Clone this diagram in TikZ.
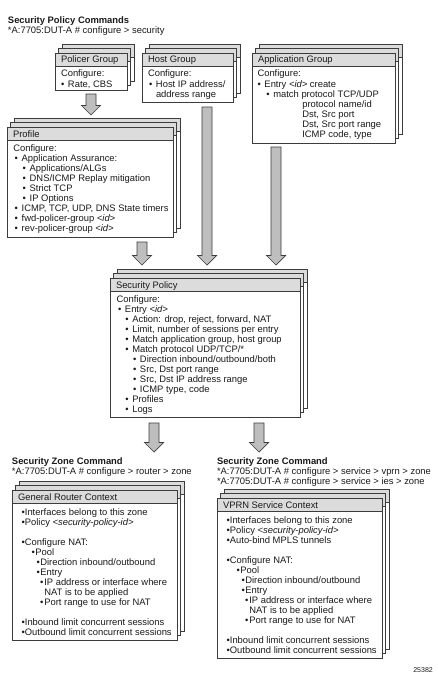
\documentclass[tikz,border=0pt]{standalone}
\usepackage{fontspec}
\setmainfont{Liberation Sans}
\usetikzlibrary{calc}
\definecolor{hdr}{HTML}{DCDCDC}
\definecolor{arr}{HTML}{BEBEBE}
\definecolor{edge}{HTML}{3C3C3C}
\definecolor{ink}{HTML}{1A1A1A}
\newcommand\fs{\fontsize{9.4}{10}\selectfont}
\newcommand\bl[2]{\ifdim #1pt>0pt \makebox[#1pt][l]{\textbullet}\fi #2}
\newcommand\idt[1]{\textit{<#1>}}
\tikzset{
  layer/.style={draw=edge, line width=0.8pt, fill=white},
  hdrbar/.style={draw=edge, line width=0.8pt, fill=hdr},
  tx/.style={anchor=base west, inner sep=0pt, outer sep=0pt, font=\fs, text=ink},
  ttl/.style={tx, font=\fs\bfseries},
  blk/.style={draw=edge, line width=0.7pt, fill=arr, line join=miter},
  frontbox/.style={draw=edge, line width=0.8pt, fill=white, anchor=north west, inner sep=0pt, outer sep=0pt},
}
% name, x1, y1, x2, y2, title
\newcommand\stackbox[6]{%
  \foreach \s in {2,1}{%
    \draw[layer] (#2+3.5*\s,#3-4.3*\s) rectangle (#4+3.5*\s,#5-4.3*\s);
    \draw[hdrbar] (#2+3.5*\s,#3-4.3*\s) rectangle (#4+3.5*\s,#3-4.3*\s+13);
  }
  \node[frontbox, minimum width={(#4-#2)*1pt}, minimum height={(#5-#3)*1pt}] (#1) at (#2,#3) {};
  \draw[hdrbar] (#1.north west) rectangle ++(#4-#2,13);
  \node[tx] (#1-title) at (#2+6,#3+10) {#6};
}
% prefix, x0, y0, list of xoffset/gap/text
\newcommand\lines[4]{%
  \foreach \lxx/\lgap/\ltxt [count=\i from 0] in {#4}{%
    \node[tx] (#1-\i) at ({#2+\lxx},{#3+10*\i}) {\bl{\lgap}{\ltxt}};
  }
}
\newcommand\blockarrow[2]{%
  \draw[blk] let \p1=(#1), \p2=(#2) in
    (\x1-5pt,\y1) -- (\x1+5pt,\y1) -- (\x1+5pt,\y2+9.5pt) -- (\x1+9.5pt,\y2+9.5pt)
    -- (\x1,\y2) -- (\x1-9.5pt,\y2+9.5pt) -- (\x1-5pt,\y2+9.5pt) -- cycle;
}
\begin{document}
\begin{tikzpicture}[x=1pt,y=-1pt]
\fill[white] (0,0) rectangle (438,677);
\useasboundingbox (0,0) rectangle (438,677);

% header texts
\node[ttl] (t1) at (8,24) {Security Policy Commands};
\node[tx] (t2) at (8,34) {*A:7705:DUT-A \# configure > security};

% top row
\stackbox{policer}{55}{53}{127}{90}{Policer Group}
\lines{pol}{55}{77}{6/0/{Configure:}, 6/7/{Rate, CBS}}

\stackbox{host}{142}{53}{233}{102}{Host Group}
\lines{hst}{142}{77}{6/0/{Configure:}, 7/7/{Host IP address/}, 14/0/{address range}}

\stackbox{appgrp}{252}{53}{395}{143}{Application Group}
\lines{app}{252}{77}{5.5/0/{Configure:}, 5.5/7/{Entry \idt{id} create}, 14.3/7/{match protocol TCP/UDP},
  50.3/0/{protocol name/id}, 50.3/0/{Dst, Src port}, 50.3/0/{Dst, Src port range}, 50.3/0/{ICMP code, type}}

% profile
\stackbox{profile}{7}{127}{173}{237}{Profile}
\lines{prf}{7}{151}{6.3/0/{Configure:}, 7.7/7/{Application Assurance:}, 15.7/7/{Applications/ALGs},
  15.7/7/{DNS/ICMP Replay mitigation}, 15.7/7/{Strict TCP}, 15.7/7/{IP Options},
  7.7/7/{ICMP, TCP, UDP, DNS State timers}, 7.7/7/{fwd-policer-group \idt{id}}, 7.7/7/{rev-policer-group \idt{id}}}

% security policy
\stackbox{secpol}{110}{278}{300}{417}{Security Policy}
\lines{sp}{110}{302}{6.7/0/{Configure:}, 8/7/{Entry \idt{id}}, 15.3/7/{Action: drop, reject, forward, NAT},
  15.3/7/{Limit, number of sessions per entry}, 15.3/7/{Match application group, host group},
  15.3/7/{Match protocol UDP/TCP/*}, 23/7/{Direction inbound/outbound/both}, 23/7/{Src, Dst port range},
  23/7/{Src, Dst IP address range}, 23/7/{ICMP type, code}, 15.3/7/{Profiles}, 15.3/7/{Logs}}

% zone titles
\node[ttl] (zl1) at (12,464) {Security Zone Command};
\node[tx] (zl2) at (12,474) {*A:7705:DUT-A \# configure > router > zone};
\node[ttl] (zr1) at (217,464) {Security Zone Command};
\node[tx] (zr2) at (217,474) {*A:7705:DUT-A \# configure > service > vprn > zone};
\node[tx] (zr3) at (217,484) {*A:7705:DUT-A \# configure > service > ies > zone};

% zone boxes
\stackbox{zoneL}{12}{490}{177}{640}{General Router Context}
\lines{zl}{12}{515}{9.5/3.4/{Interfaces belong to this zone}, 9.5/3.4/{Policy \idt{security-policy-id}}, 0/0/{},
  9.5/3.4/{Configure NAT:}, 19.5/3.8/{Pool}, 24.5/3.8/{Direction inbound/outbound}, 24.5/3.8/{Entry},
  28/4.3/{IP address or interface where}, 32.3/0/{NAT is to be applied}, 28/4.3/{Port range to use for NAT},
  0/0/{}, 9.5/3.4/{Inbound limit concurrent sessions}, 9.5/3.4/{Outbound limit concurrent sessions}}

\stackbox{zoneR}{217}{498}{382}{658}{VPRN Service Context}
\lines{zr}{217}{523.5}{9.5/3.4/{Interfaces belong to this zone}, 9.5/3.4/{Policy \idt{security-policy-id}},
  9.5/3.4/{Auto-bind MPLS tunnels}, 0/0/{},
  9.5/3.4/{Configure NAT:}, 19.5/3.8/{Pool}, 24.5/3.8/{Direction inbound/outbound}, 24.5/3.8/{Entry},
  28/4.3/{IP address or interface where}, 32.3/0/{NAT is to be applied}, 28/4.3/{Port range to use for NAT},
  0/0/{}, 9.5/3.4/{Inbound limit concurrent sessions}, 9.5/3.4/{Outbound limit concurrent sessions}}

% block arrows
\coordinate (a1s) at ([yshift=-4pt]policer.south);
\coordinate (a1e) at ($(a1s |- profile.north)+(0,-12)$);
\blockarrow{a1s}{a1e}
\coordinate (a2s) at ($(profile.south west)+(135,5)$);
\coordinate (a2e) at ($(a2s |- secpol.north)+(0,-13)$);
\blockarrow{a2s}{a2e}
\coordinate (a3s) at ($(host.south west)+(65,5)$);
\coordinate (a3e) at ($(a3s |- secpol.north)+(0,-13)$);
\blockarrow{a3s}{a3e}
\coordinate (a4s) at ($(appgrp.south west)+(24,4)$);
\coordinate (a4e) at ($(a4s |- secpol.north)+(0,-13)$);
\blockarrow{a4s}{a4e}
\coordinate (a5s) at ($(secpol.south west)+(44,6)$);
\coordinate (a5e) at ($(a5s |- zoneL.north)+(0,-38)$);
\blockarrow{a5s}{a5e}
\coordinate (a6s) at ($(secpol.south west)+(149,6)$);
\coordinate (a6e) at ($(a6s |- zoneL.north)+(0,-38)$);
\blockarrow{a6s}{a6e}

\node[anchor=base east, inner sep=0pt, font=\fontsize{7}{8}\selectfont, text=ink] (fig) at (433,672) {25382};
\end{tikzpicture}
\end{document}
